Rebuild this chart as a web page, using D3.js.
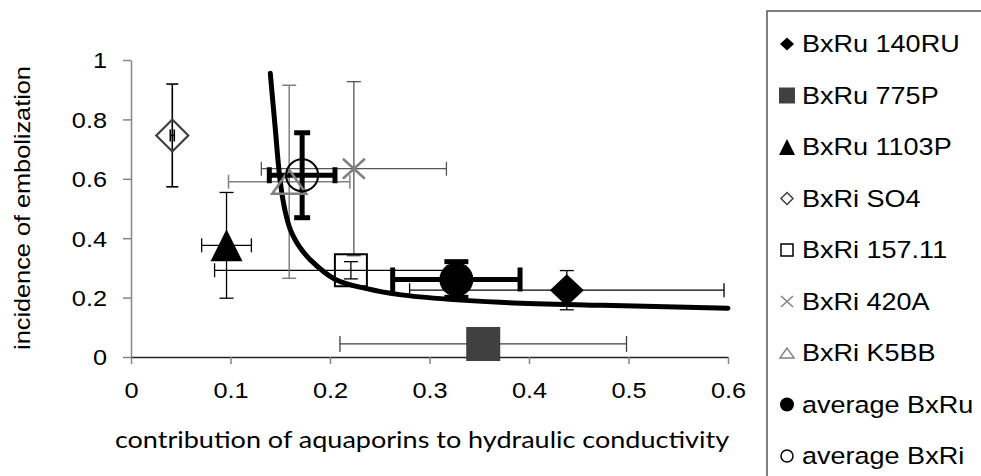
<!DOCTYPE html>
<html>
<head>
<meta charset="utf-8">
<script src="https://cdn.jsdelivr.net/npm/d3@7"></script>
<style>
body { margin: 0; background: #fff; }
text { font-family: Arial, "Liberation Sans", sans-serif; fill: #000; }
</style>
</head>
<body>
<div id="chart"></div>
<script>
// data
var seriesNames = ["BxRu 140RU", "BxRu 775P", "BxRu 1103P", "BxRi SO4", "BxRi 157.11",
                   "BxRi 420A", "BxRi K5BB", "average BxRu", "average BxRi"];
var xValues   = [0.438, 0.354, 0.096, 0.0415, 0.221, 0.224, 0.159, 0.327, 0.172];
var yValues   = [0.225, 0.044, 0.376, 0.746, 0.292, 0.634, 0.590, 0.261, 0.612];
var xErrMinus = [0.158, 0.144, 0.025, 0.002, 0.137, 0.093, 0.061, 0.064, 0.033];
var xErrPlus  = [0.158, 0.144, 0.025, 0.002, 0.100, 0.093, 0.061, 0.064, 0.033];
var yErr      = [0.066, 0,     0.178, 0.173, 0.029, 0.293, 0.325, 0.060, 0.143];

// trend line, points
var curveX = [0.140, 0.1447, 0.150, 0.155, 0.160, 0.165, 0.170, 0.180, 0.205, 0.237, 0.270, 0.320, 0.371, 0.474, 0.600];
var curveY = [0.955, 0.780, 0.590, 0.490, 0.430, 0.395, 0.368, 0.328, 0.262, 0.230, 0.210, 0.194, 0.184, 0.174, 0.164];

var xTicks = [0, 0.1, 0.2, 0.3, 0.4, 0.5, 0.6];
var yTicks = [0, 0.2, 0.4, 0.6, 0.8, 1];

var xTitle = "contribution of aquaporins to hydraulic conductivity";
var yTitle = "incidence of embolization";

// look of each series (shape, size, colours, error bar style)
var styles = [
    {shape: "diamond",  w: 17, h: 16, fill: "#000",    stroke: "none", sw: 0,   lw: 7,  bar: "#000",    bw: 1.3, cap: 7},
    {shape: "square",   w: 17, h: 17, fill: "#404040", stroke: "none", sw: 0,   lw: 8,  bar: "#404040", bw: 1.3, cap: 8},
    {shape: "triangle", w: 16, h: 16, fill: "#000",    stroke: "none", sw: 0,   lw: 8,  bar: "#000",    bw: 1.3, cap: 7},
    {shape: "diamond",  w: 16, h: 16, fill: "none",    stroke: "#404040", sw: 2.2, lw: 6, bar: "#000",  bw: 1.6, cap: 6},
    {shape: "square",   w: 16, h: 16, fill: "none",    stroke: "#000", sw: 2,   lw: 6,  bar: "#000",    bw: 1.3, cap: 7},
    {shape: "cross",    w: 11, h: 10, fill: "none",    stroke: "#808080", sw: 2.5, lw: 6, bar: "#555",  bw: 1.3, cap: 7},
    {shape: "triangle", w: 17, h: 12, fill: "none",    stroke: "#808080", sw: 2.5, lw: 7, bar: "#808080", bw: 1.5, cap: 7},
    {shape: "circle",   w: 17, h: 17, fill: "#000",    stroke: "none", sw: 0,   lw: 7,  bar: "#000",    bw: 5,   cap: 12},
    {shape: "circle",   w: 16, h: 16, fill: "none",    stroke: "#000", sw: 2,   lw: 6,  bar: "#000",    bw: 5,   cap: 8}
];

var width = 981, height = 476;
var plot = {left: 131, right: 728, top: 60, bottom: 357};
var stretch = 1.15;

var svg = d3.select("#chart")
    .append("svg")
    .attr("width", width)
    .attr("height", height);

var x = d3.scaleLinear().domain([0, 0.6]).range([plot.left, plot.right]);
var y = d3.scaleLinear().domain([0, 1]).range([plot.bottom, plot.top]);

function shapePath(s, w, h) {
    if (s == "diamond") return "M0," + (-h) + "L" + w + ",0L0," + h + "L" + (-w) + ",0Z";
    if (s == "square") return "M" + (-w) + "," + (-h) + "H" + w + "V" + h + "H" + (-w) + "Z";
    if (s == "triangle") return "M0," + (-h) + "L" + w + "," + h + "L" + (-w) + "," + h + "Z";
    if (s == "cross") return "M" + (-w) + "," + (-h) + "L" + w + "," + h + "M" + w + "," + (-h) + "L" + (-w) + "," + h;
    // circle
    return "M" + w + ",0A" + w + "," + w + " 0 1,1 " + (-w) + ",0A" + w + "," + w + " 0 1,1 " + w + ",0Z";
}

// Y axis
var yAxis = svg.append("g")
    .attr("transform", "translate(" + plot.left + ",0)")
    .call(d3.axisLeft(y).tickValues(yTicks).tickSize(8).tickSizeOuter(0)
        .tickFormat(function(d) { return String(d); }));
yAxis.select(".domain").attr("stroke", "#868686").attr("stroke-width", 1.5);
yAxis.selectAll(".tick line").attr("stroke", "#868686").attr("stroke-width", 1.5);
yAxis.selectAll(".tick text")
    .attr("font-size", 22).attr("font-family", "Arial, 'Liberation Sans', sans-serif")
    .attr("fill", "#000").attr("x", 0).attr("dy", "0.36em")
    .attr("transform", "translate(-24,0) scale(" + stretch + ",1)");

// X axis
var xAxis = svg.append("g")
    .attr("transform", "translate(0," + plot.bottom + ")")
    .call(d3.axisBottom(x).tickValues(xTicks).tickSize(7).tickSizeOuter(0)
        .tickFormat(function(d) { return String(d); }));
xAxis.select(".domain").attr("stroke", "#222").attr("stroke-width", 1.5);
xAxis.selectAll(".tick line").attr("stroke", "#868686").attr("stroke-width", 1.5);
xAxis.selectAll(".tick text")
    .attr("font-size", 22).attr("font-family", "Arial, 'Liberation Sans', sans-serif")
    .attr("fill", "#000").attr("y", 0).attr("dy", 0)
    .attr("transform", "translate(0,41) scale(" + stretch + ",1)");

// axis titles
svg.append("text")
    .attr("transform", "translate(30,208) rotate(-90) scale(" + stretch + ",1)")
    .attr("text-anchor", "middle")
    .attr("font-size", 22)
    .text(yTitle);

svg.append("text")
    .attr("transform", "translate(422,448) scale(" + stretch + ",1)")
    .attr("text-anchor", "middle")
    .attr("font-size", 23.5)
    .style("font-family", "Lato, 'Open Sans', sans-serif")
    .text(xTitle);

// error bars
var bars = svg.append("g");
seriesNames.forEach(function(name, i) {
    var st = styles[i];
    var cx = x(xValues[i]), cy = y(yValues[i]);
    var g = bars.append("g")
        .attr("stroke", st.bar)
        .attr("stroke-width", st.bw)
        .attr("fill", "none");
    if (xErrMinus[i] > 0 || xErrPlus[i] > 0) {
        var x0 = x(xValues[i] - xErrMinus[i]), x1 = x(xValues[i] + xErrPlus[i]);
        g.append("line").attr("x1", x0).attr("x2", x1).attr("y1", cy).attr("y2", cy);
        g.append("line").attr("x1", x0).attr("x2", x0).attr("y1", cy - st.cap).attr("y2", cy + st.cap);
        g.append("line").attr("x1", x1).attr("x2", x1).attr("y1", cy - st.cap).attr("y2", cy + st.cap);
    }
    if (yErr[i] > 0) {
        var y0 = y(yValues[i] - yErr[i]), y1 = y(yValues[i] + yErr[i]);
        g.append("line").attr("x1", cx).attr("x2", cx).attr("y1", y0).attr("y2", y1);
        g.append("line").attr("x1", cx - st.cap).attr("x2", cx + st.cap).attr("y1", y0).attr("y2", y0);
        g.append("line").attr("x1", cx - st.cap).attr("x2", cx + st.cap).attr("y1", y1).attr("y2", y1);
    }
});

// trend line
var line = d3.line()
    .x(function(d) { return x(d[0]); })
    .y(function(d) { return y(d[1]); })
    .curve(d3.curveCatmullRom.alpha(0.5));
svg.append("path")
    .datum(curveX.map(function(v, i) { return [v, curveY[i]]; }))
    .attr("d", line)
    .attr("fill", "none")
    .attr("stroke", "#000")
    .attr("stroke-width", 5)
    .attr("stroke-linecap", "round");

// markers
svg.append("g").selectAll("path")
    .data(seriesNames)
    .enter()
    .append("path")
    .attr("transform", function(d, i) { return "translate(" + x(xValues[i]) + "," + y(yValues[i]) + ")"; })
    .attr("d", function(d, i) { return shapePath(styles[i].shape, styles[i].w, styles[i].h); })
    .attr("fill", function(d, i) { return styles[i].fill; })
    .attr("stroke", function(d, i) { return styles[i].stroke; })
    .attr("stroke-width", function(d, i) { return styles[i].sw; });

// legend
var legend = svg.append("g");
legend.append("rect")
    .attr("x", 767).attr("y", 11)
    .attr("width", 260).attr("height", 500)
    .attr("fill", "none")
    .attr("stroke", "#555")
    .attr("stroke-width", 1.5);

var rowY = d3.scalePoint().domain(seriesNames).range([44, 456]);
var item = legend.selectAll("g.item")
    .data(seriesNames)
    .enter()
    .append("g")
    .attr("class", "item")
    .attr("transform", function(d) { return "translate(787," + rowY(d) + ")"; });

item.append("path")
    .attr("d", function(d, i) {
        var st = styles[i];
        var k = st.lw / st.w;
        return shapePath(st.shape, st.lw, st.h * k);
    })
    .attr("fill", function(d, i) { return styles[i].fill; })
    .attr("stroke", function(d, i) { return styles[i].stroke; })
    .attr("stroke-width", function(d, i) { return Math.min(styles[i].sw, 1.5); });

item.append("text")
    .attr("transform", "translate(15,0) scale(" + stretch + ",1)")
    .attr("dy", "0.36em")
    .attr("font-size", 23.5)
    .text(function(d) { return d; });
</script>
</body>
</html>
